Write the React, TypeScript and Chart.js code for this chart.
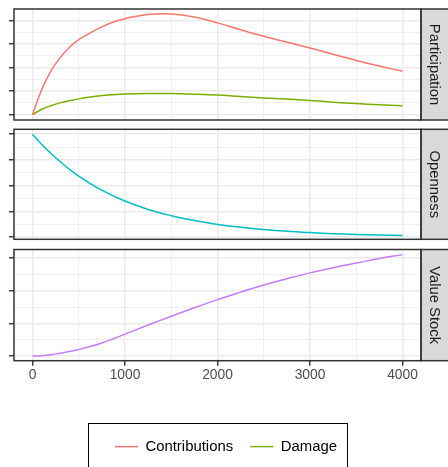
import { useEffect, useRef } from 'react';
import { Chart, registerables } from 'chart.js';

Chart.register(...registerables);

// ---- data ----
const xValues = [0, 100, 200, 300, 400, 500, 625, 750, 875, 1000, 1250, 1500, 1750, 2000, 2250, 2500, 2750, 3000, 3250, 3500, 3750, 4000];
const contributions = [0, 1.07, 1.86, 2.42, 2.86, 3.18, 3.47, 3.72, 3.93, 4.07, 4.25, 4.27, 4.14, 3.89, 3.60, 3.32, 3.07, 2.83, 2.56, 2.30, 2.06, 1.84];
const damage = [0, 0.23, 0.38, 0.50, 0.59, 0.67, 0.75, 0.81, 0.85, 0.88, 0.90, 0.90, 0.87, 0.83, 0.77, 0.71, 0.66, 0.60, 0.53, 0.47, 0.42, 0.38];
const openness = [4.0, 3.6, 3.25, 2.93, 2.63, 2.37, 2.08, 1.82, 1.60, 1.40, 1.07, 0.83, 0.64, 0.49, 0.38, 0.29, 0.22, 0.17, 0.13, 0.10, 0.08, 0.06];
const valueStock = [0, 0.01, 0.04, 0.085, 0.135, 0.20, 0.29, 0.40, 0.53, 0.67, 0.95, 1.22, 1.48, 1.73, 1.96, 2.18, 2.37, 2.55, 2.71, 2.85, 2.99, 3.11];

const xTicks = [0, 500, 1000, 1500, 2000, 2500, 3000, 3500, 4000];
const participationTicks = [0, 0.5, 1, 1.5, 2, 2.5, 3, 3.5, 4];
const opennessTicks = [0, 0.5, 1, 1.5, 2, 2.5, 3, 3.5, 4];
const valueStockTicks = [0, 0.5, 1, 1.5, 2, 2.5, 3];

const seriesNames = ['Contributions', 'Damage'];
const facetNames = ['Participation', 'Openness', 'Value Stock'];

// ---- style ----
const W = 448;
const H = 467;
const FONT = "'Liberation Sans', Arial, Helvetica, sans-serif";
const COLORS = { contributions: '#F8766D', damage: '#7CAE00', openness: '#00BFC4', valueStock: '#C77CFF' };
const GRID = '#ebebeb';
const FRAME = '#333333';
const X_AXIS_H = 30;
const LEGEND_TOP = 422;
const LEGEND_H = 110;

const toPoints = (ys: number[]) => xValues.map((x, i) => ({ x, y: ys[i] }));

const lineDs = (label: string, ys: number[], color: string) => ({
  label,
  data: toPoints(ys),
  borderColor: color,
  backgroundColor: color,
  borderWidth: 1.5,
  pointRadius: 0,
  tension: 0.4,
  fill: false,
});

const framePlugin = {
  id: 'facetFrame',
  beforeDraw(chart: any) {
    const { ctx, chartArea: a } = chart;
    ctx.save();
    ctx.fillStyle = '#d9d9d9';
    ctx.fillRect(a.right, a.top, 40, a.bottom - a.top);
    ctx.restore();
  },
  afterDraw(chart: any) {
    const { ctx, chartArea: a } = chart;
    ctx.save();
    ctx.strokeStyle = FRAME;
    ctx.lineWidth = 1.5;
    ctx.strokeRect(a.left, a.top, a.right - a.left, a.bottom - a.top);
    ctx.strokeRect(a.right, a.top, 40, a.bottom - a.top);
    ctx.restore();
  },
};

function panelConfig(
  datasets: any[],
  title: string,
  yMin: number,
  yMax: number,
  yTicks: number[],
  top: number,
  bottom: number,
  showX: boolean
): any {
  return {
    type: 'line',
    data: { datasets },
    plugins: [framePlugin],
    options: {
      responsive: false,
      animation: false,
      events: [],
      layout: { padding: { top, bottom: H - bottom - (showX ? X_AXIS_H : 0), left: 0, right: 0 } },
      scales: {
        x: {
          type: 'linear',
          min: -200,
          max: 4200,
          afterBuildTicks: (s: any) => {
            s.ticks = xTicks.map((v) => ({ value: v }));
          },
          afterFit: (s: any) => {
            s.height = showX ? X_AXIS_H : 0;
          },
          border: { display: false },
          grid: {
            color: GRID,
            lineWidth: (c: any) => (c.tick && c.tick.value % 1000 === 0 ? 1.5 : 0.75),
            drawTicks: showX,
            tickLength: 5,
            tickWidth: 1.4,
            tickColor: (c: any) => (c.tick && c.tick.value % 1000 === 0 ? FRAME : 'rgba(0,0,0,0)'),
          },
          ticks: {
            display: showX,
            autoSkip: false,
            maxRotation: 0,
            padding: 1.5,
            color: '#4d4d4d',
            font: { family: FONT, size: 13.8 },
            callback: (v: any) => (Number(v) % 1000 === 0 ? String(v) : ''),
          },
        },
        y: {
          type: 'linear',
          min: yMin,
          max: yMax,
          afterBuildTicks: (s: any) => {
            s.ticks = yTicks.map((v) => ({ value: v }));
          },
          afterFit: (s: any) => {
            s.width = 14;
          },
          border: { display: false },
          grid: {
            color: GRID,
            lineWidth: (c: any) => (c.tick && Number.isInteger(c.tick.value) ? 1.5 : 0.75),
            drawTicks: true,
            tickLength: 5,
            tickWidth: 1.4,
            tickColor: (c: any) => (c.tick && Number.isInteger(c.tick.value) ? FRAME : 'rgba(0,0,0,0)'),
          },
          ticks: { display: false },
        },
      },
      plugins: {
        legend: { display: false },
        tooltip: { enabled: false },
        title: {
          display: true,
          text: title,
          position: 'right',
          fullSize: false,
          color: '#1a1a1a',
          font: { family: FONT, size: 14.8, weight: 'normal', lineHeight: 1.2 },
          padding: { top: 4.62, bottom: 4.62 },
        },
      },
    },
  };
}

const legendBoxPlugin = {
  id: 'legendBox',
  afterDraw(chart: any) {
    const hb = chart.legend && chart.legend.legendHitBoxes;
    if (!hb || !hb.length) return;
    const first = hb[0];
    const last = hb[hb.length - 1];
    const cy = first.top + first.height / 2;
    const left = Math.round(first.left - 26.6) + 0.5;
    const right = Math.round(last.left + last.width + 10) + 0.5;
    const top = Math.round(cy - 23.4) + 0.5;
    const { ctx } = chart;
    ctx.save();
    ctx.strokeStyle = '#000';
    ctx.lineWidth = 1;
    ctx.strokeRect(left, top, right - left, 80);
    ctx.restore();
  },
};

function legendConfig(): any {
  return {
    type: 'line',
    data: {
      datasets: [
        { label: seriesNames[0], data: [], borderColor: COLORS.contributions, borderWidth: 1.5 },
        { label: seriesNames[1], data: [], borderColor: COLORS.damage, borderWidth: 1.5 },
      ],
    },
    plugins: [legendBoxPlugin],
    options: {
      responsive: false,
      animation: false,
      events: [],
      layout: { padding: { top: 0, left: 4, right: 0, bottom: 0 } },
      scales: { x: { type: 'linear', display: false }, y: { display: false } },
      plugins: {
        tooltip: { enabled: false },
        title: { display: false },
        legend: {
          display: true,
          position: 'top',
          labels: {
            usePointStyle: true,
            pointStyle: 'line',
            pointStyleWidth: 23,
            padding: 17.15,
            color: '#000',
            font: { family: FONT, size: 14.9 },
            generateLabels: (chart: any) =>
              chart.data.datasets.map((ds: any, i: number) => ({
                text: ds.label,
                fillStyle: ds.borderColor,
                strokeStyle: ds.borderColor,
                lineWidth: 1.5,
                pointStyle: 'line',
                hidden: false,
                datasetIndex: i,
                fontColor: '#000',
              })),
          },
        },
      },
    },
  };
}

export default function App() {
  const c1 = useRef<HTMLCanvasElement>(null);
  const c2 = useRef<HTMLCanvasElement>(null);
  const c3 = useRef<HTMLCanvasElement>(null);
  const c4 = useRef<HTMLCanvasElement>(null);

  useEffect(() => {
    const charts = [
      new Chart(
        c1.current!,
        panelConfig(
          [lineDs(seriesNames[0], contributions, COLORS.contributions), lineDs(seriesNames[1], damage, COLORS.damage)],
          facetNames[0],
          -0.225,
          4.479,
          participationTicks,
          9,
          120,
          false
        )
      ),
      new Chart(
        c2.current!,
        panelConfig([lineDs('Openness', openness, COLORS.openness)], facetNames[1], -0.09, 4.19, opennessTicks, 129.3, 239.3, false)
      ),
      new Chart(
        c3.current!,
        panelConfig([lineDs('Value Stock', valueStock, COLORS.valueStock)], facetNames[2], -0.144, 3.267, valueStockTicks, 249.5, 360.7, true)
      ),
      new Chart(c4.current!, legendConfig()),
    ];
    return () => charts.forEach((c) => c.destroy());
  }, []);

  const cs: any = { position: 'absolute', left: 0, top: 0, width: W, height: H };
  return (
    <div style={{ position: 'absolute', left: 0, top: 0, width: W, height: H, background: '#fff', overflow: 'hidden' }}>
      <canvas ref={c1} width={W} height={H} style={cs} />
      <canvas ref={c2} width={W} height={H} style={cs} />
      <canvas ref={c3} width={W} height={H} style={cs} />
      <canvas
        ref={c4}
        width={W}
        height={LEGEND_H}
        style={{ position: 'absolute', left: 0, top: LEGEND_TOP, width: W, height: LEGEND_H }}
      />
    </div>
  );
}
